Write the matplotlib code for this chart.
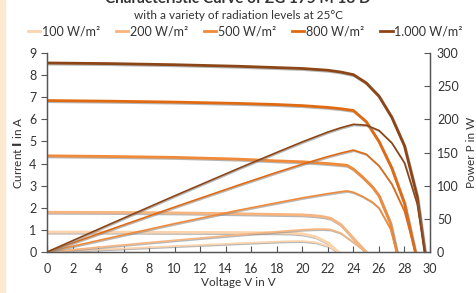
import numpy as np
import matplotlib
matplotlib.use("Agg")
import matplotlib.pyplot as plt
import matplotlib.patheffects as pe
from matplotlib.patches import Rectangle
from matplotlib.lines import Line2D

plt.rcParams['font.family'] = ['Lato', 'DejaVu Sans']

# irradiance levels, colours and I-V points
labels = ["100 W/m²", "200 W/m²", "500 W/m²", "800 W/m²", "1.000 W/m²"]
colors = ["#fbd3ad", "#f6b47f", "#ef8a3a", "#e06a12", "#8b4516"]

v_100 = [0, 5, 10, 15, 18, 19, 20, 21, 22, 22.8]
i_100 = [0.90, 0.90, 0.89, 0.88, 0.87, 0.86, 0.82, 0.70, 0.42, 0.0]

v_200 = [0, 5, 10, 15, 18, 20, 21, 21.6, 22.2, 23, 23.9, 24.5, 25.0]
i_200 = [1.80, 1.79, 1.77, 1.73, 1.70, 1.68, 1.64, 1.60, 1.53, 1.25, 0.68, 0.30, 0.0]

v_500 = [0, 5, 10, 15, 18, 20, 22, 23, 23.5, 24, 24.7, 25.5, 26, 26.9, 27.4]
i_500 = [4.35, 4.32, 4.28, 4.20, 4.12, 4.08, 4.00, 3.95, 3.92, 3.75, 3.40, 2.94, 2.55, 1.30, 0.0]

v_800 = [0, 5, 10, 15, 18, 20, 22, 23, 24, 25, 26, 27, 28, 28.85]
i_800 = [6.85, 6.82, 6.78, 6.72, 6.67, 6.62, 6.54, 6.48, 6.40, 5.90, 5.00, 3.80, 2.20, 0.0]

v_1000 = [0, 5, 10, 15, 18, 20, 22, 23, 24, 25, 26, 27, 28, 29, 29.6]
i_1000 = [8.55, 8.52, 8.47, 8.40, 8.34, 8.30, 8.22, 8.14, 8.02, 7.65, 7.05, 6.10, 4.80, 2.50, 0.0]

curves = [(v_100, i_100), (v_200, i_200), (v_500, i_500), (v_800, i_800), (v_1000, i_1000)]

fig = plt.figure(figsize=(4.76, 2.93), dpi=100)
fig.patches.append(Rectangle((0, 0), 5 / 476, 1, transform=fig.transFigure,
                             color="#fde9d0", zorder=0))
ax = fig.add_axes([47 / 476, 1 - 252 / 293, 383 / 476, 199 / 293])
ax2 = ax.twinx()

shadow = [pe.SimpleLineShadow(offset=(0.6, -0.8), shadow_color="#888888", alpha=0.6), pe.Normal()]

handles = []
for (v, i), c, lab in zip(curves, colors, labels):
    v = np.array(v)
    i = np.array(i)
    ax.plot(v, i, color=c, lw=2.0, solid_capstyle="round", path_effects=shadow)
    ax2.plot(v, v * i, color=c, lw=1.2, path_effects=shadow)
    handles.append(Line2D([], [], color=c, lw=2.0))

ax.set_xlim(0, 30)
ax.set_ylim(0, 9)
ax2.set_ylim(0, 300)
ax.set_xticks(range(0, 31, 2))
ax.set_yticks(range(0, 10))
ax2.set_yticks(range(0, 301, 50))

for a in (ax, ax2):
    a.spines["top"].set_visible(False)
    for s in a.spines.values():
        s.set_color("#555555")
        s.set_linewidth(0.9)

ax.tick_params(axis="x", direction="in", length=4, color="#555555", labelsize=9, labelcolor="#333333", pad=8)
ax.tick_params(axis="y", direction="out", length=4, color="#555555", labelsize=9, labelcolor="#333333")
ax2.tick_params(axis="y", direction="in", length=4, color="#555555", labelsize=9, labelcolor="#333333", pad=5)

ax.set_xlabel("Voltage V in V", fontsize=8.5, color="#333333", labelpad=1)
ax.set_ylabel(r"Current $\mathbf{I}$ in A", fontsize=8.5, color="#333333", labelpad=4)
ax2.set_ylabel("Power P in W", fontsize=8.5, color="#333333", labelpad=5)

fig.legend(handles=handles, labels=labels, loc="center", bbox_to_anchor=(0.515, 1 - 31 / 293),
           ncol=5, frameon=False, fontsize=9, handlelength=1.0, handletextpad=0.15,
           columnspacing=1.25, labelcolor="#333333")

fig.text(0.5, 1 - 3 / 293, "Characteristic Curve of ZG 175 M 18 D", ha="center", va="baseline",
         fontsize=11, fontweight="bold", color="#333333")
fig.text(0.5, 1 - 19 / 293, "with a variety of radiation levels at 25°C", ha="center", va="baseline",
         fontsize=8.5, color="#333333")

fig.savefig("out.png", dpi=100)
